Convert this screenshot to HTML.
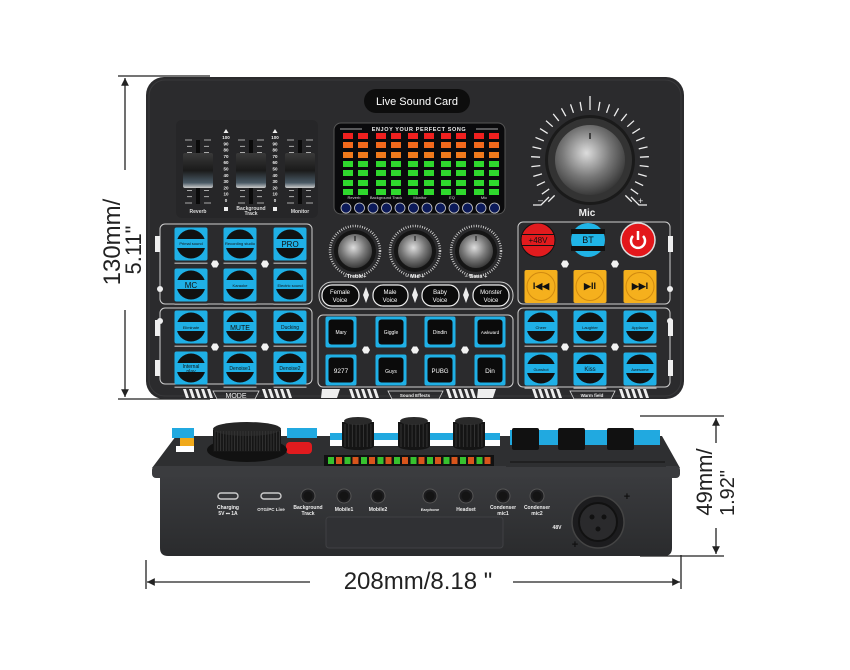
<!DOCTYPE html>
<html><head><meta charset="utf-8"><style>
html,body{margin:0;padding:0;background:#fff;}
svg{display:block;}
text{font-family:"Liberation Sans",sans-serif;}
</style></head><body>
<svg id="s" width="850" height="670" viewBox="0 0 850 670" xmlns="http://www.w3.org/2000/svg">
<defs>
<radialGradient id="kn" cx="0.45" cy="0.4" r="0.7"><stop offset="0" stop-color="#ddd"/><stop offset="0.5" stop-color="#777"/><stop offset="1" stop-color="#222"/></radialGradient>
<linearGradient id="cap" x1="0" y1="0" x2="0" y2="1"><stop offset="0" stop-color="#3a3a3a"/><stop offset="0.5" stop-color="#1a1a1a"/><stop offset="0.85" stop-color="#4a5a66"/><stop offset="1" stop-color="#ccc"/></linearGradient>
<linearGradient id="face" x1="0" y1="0" x2="0" y2="1"><stop offset="0" stop-color="#3a3b3e"/><stop offset="1" stop-color="#2a2b2d"/></linearGradient>
<marker id="ar" viewBox="0 0 10 10" refX="10" refY="5" markerWidth="8" markerHeight="6" orient="auto-start-reverse"><path d="M0,0 L10,5 L0,10z" fill="#222"/></marker>
</defs>

<!-- dimension lines -->
<g stroke="#222" stroke-width="1.3" fill="none">
<line x1="118" y1="76" x2="210" y2="76"/>
<line x1="118" y1="399" x2="210" y2="399"/>
<line x1="125" y1="170" x2="125" y2="78" marker-end="url(#ar)"/>
<line x1="125" y1="310" x2="125" y2="397" marker-end="url(#ar)"/>
<line x1="640" y1="416" x2="724" y2="416"/>
<line x1="640" y1="556" x2="724" y2="556"/>
<line x1="716" y1="443" x2="716" y2="418" marker-end="url(#ar)"/>
<line x1="716" y1="528" x2="716" y2="554" marker-end="url(#ar)"/>
<line x1="146" y1="560" x2="146" y2="589"/>
<line x1="681" y1="555" x2="681" y2="589"/>
<line x1="310" y1="582" x2="147" y2="582" marker-end="url(#ar)"/>
<line x1="513" y1="582" x2="680" y2="582" marker-end="url(#ar)"/>
</g>
<text x="112" y="242" font-size="24" fill="#222" text-anchor="middle" transform="rotate(-90 112 242)" dy="8">130mm/</text>
<text x="134" y="250" font-size="22" fill="#222" text-anchor="middle" transform="rotate(-90 134 250)" dy="7">5.11"</text>
<text x="705" y="482" font-size="22" fill="#222" text-anchor="middle" transform="rotate(-90 705 482)" dy="7">49mm/</text>
<text x="727" y="493" font-size="20" fill="#222" text-anchor="middle" transform="rotate(-90 727 493)" dy="7">1.92"</text>
<text x="418" y="589" font-size="24" fill="#222" text-anchor="middle">208mm/8.18 "</text>

<!-- TOP DEVICE -->
<rect x="146" y="77" width="538" height="322" rx="18" fill="#2b2b2d"/>
<rect x="149" y="80" width="532" height="316" rx="16" fill="none" stroke="#3a3a3c" stroke-width="1"/>
<rect x="364" y="89" width="106" height="24" rx="12" fill="#0d0d0d"/>
<text x="417" y="105" font-size="11" fill="#fff" text-anchor="middle">Live Sound Card</text>
<rect x="176" y="120" width="142" height="98" rx="6" fill="#262628"/>
<g id="faders"></g>
<g font-size="5" fill="#ddd" text-anchor="middle" font-weight="bold">
<text x="198" y="213">Reverb</text><text x="251" y="210">Background</text><text x="251" y="215">Track</text><text x="300" y="213">Monitor</text>
</g>
<g id="nums" font-size="4.5" fill="#eee" text-anchor="middle" font-weight="bold"></g>

<!-- display -->
<rect x="334" y="123" width="171" height="91" rx="7" fill="#0a0a0c" stroke="#555" stroke-width="1"/>
<text x="419" y="131" font-size="5.5" fill="#eee" text-anchor="middle" font-weight="bold" letter-spacing="0.6">ENJOY YOUR PERFECT SONG</text>
<line x1="340" y1="129" x2="362" y2="129" stroke="#ddd" stroke-width="0.8"/><line x1="476" y1="129" x2="498" y2="129" stroke="#ddd" stroke-width="0.8"/>
<g id="leds"></g>
<g font-size="4" fill="#ddd" text-anchor="middle"><text x="354" y="199">Reverb</text><text x="386" y="199">Background Track</text><text x="420" y="199">Monitor</text><text x="452" y="199">EQ</text><text x="484" y="199">Mic</text></g>
<g id="circs"></g>

<!-- Mic knob -->
<g id="ticks" stroke="#eee" stroke-width="1.3"></g>
<circle cx="590" cy="160" r="45" fill="#1a1a1a"/>
<circle cx="590" cy="160" r="42" fill="#333"/>
<circle cx="590" cy="160" r="35" fill="url(#kn)"/>
<line x1="590" y1="133" x2="590" y2="139" stroke="#222" stroke-width="1.5"/>
<path d="M533,205 h8 l8,-8" stroke="#eee" fill="none" stroke-width="1.3"/><text x="538" y="203" font-size="9" fill="#eee">–</text>
<path d="M647,205 h-8 l-8,-8" stroke="#eee" fill="none" stroke-width="1.3"/><text x="638" y="204" font-size="9" fill="#eee">+</text>
<text x="587" y="216" font-size="10" fill="#eee" text-anchor="middle" font-weight="bold">Mic</text>

<!-- panel boxes -->
<g fill="none" stroke="#cfcfcf" stroke-width="1">
<rect x="160" y="224" width="152" height="80" rx="5"/>
<rect x="160" y="308" width="152" height="76" rx="5"/>
<rect x="319" y="282" width="194" height="27" rx="13"/>
<rect x="318" y="315" width="195" height="72" rx="5"/>
<rect x="518" y="222" width="152" height="82" rx="5"/>
<rect x="518" y="308" width="152" height="79" rx="5"/>
</g>
<g fill="#eee"><rect x="155" y="236" width="5" height="16"/><rect x="155" y="320" width="5" height="16"/><rect x="155" y="360" width="5" height="16"/><rect x="668" y="236" width="5" height="16"/><rect x="668" y="320" width="5" height="16"/><rect x="668" y="360" width="5" height="16"/>
<circle cx="160" cy="289" r="3"/><circle cx="160" cy="321" r="3"/><circle cx="670" cy="289" r="3"/><circle cx="670" cy="321" r="3"/></g>

<g id="btns"></g>
<g id="hex" fill="#f2f2f2"></g>
<g font-size="4" fill="#111" text-anchor="middle">
<text x="191" y="245">Primal sound</text><text x="240" y="245">Recording studio</text><text x="290" y="247" font-size="8">PRO</text>
<text x="191" y="288" font-size="8">MC</text><text x="240" y="287">Karaoke</text><text x="290" y="287">Electric sound</text>
<text x="191" y="329">Eliminate</text><text x="240" y="330" font-size="7">MUTE</text><text x="290" y="329" font-size="5">Ducking</text>
<text x="191" y="368" font-size="5">Internal</text><text x="191" y="373" font-size="5">play</text><text x="240" y="370" font-size="5">Denoise1</text><text x="290" y="370" font-size="5">Denoise2</text>
<text x="541" y="329">Cheer</text><text x="590" y="329">Laughter</text><text x="640" y="329">Applause</text>
<text x="541" y="371">Gunshot</text><text x="590" y="371" font-size="6">Kiss</text><text x="640" y="371">Awesome</text>
</g>
<g font-size="5" fill="#fff" text-anchor="middle">
<text x="341" y="334">Mary</text><text x="391" y="334">Giggle</text><text x="440" y="334">Dindin</text><text x="490" y="334" font-size="4.5">Awkward</text>
<text x="341" y="373" font-size="6.5">9277</text><text x="391" y="373">Guys</text><text x="440" y="373" font-size="6">PUBG</text><text x="490" y="373" font-size="6.5">Din</text>
</g>
<!-- knobs -->
<g id="knobs"></g>
<g font-size="5.5" fill="#eee" text-anchor="middle" font-weight="bold"><text x="355" y="278">−Treble+</text><text x="415" y="278">−  Mid  +</text><text x="476" y="278">−  Bass  +</text></g>
<!-- voices -->
<g fill="#0b0b0b" stroke="#eee" stroke-width="1.2">
<rect x="322" y="285" width="37" height="21" rx="10"/><rect x="373" y="285" width="35" height="21" rx="10"/><rect x="422" y="285" width="37" height="21" rx="10"/><rect x="473" y="285" width="36" height="21" rx="10"/>
</g>
<g fill="#eee"><path d="M366,287 l3,8 -3,8 -3,-8z"/><path d="M415,287 l3,8 -3,8 -3,-8z"/><path d="M466,287 l3,8 -3,8 -3,-8z"/></g>
<g font-size="6" fill="#fff" text-anchor="middle"><text x="340" y="294">Female</text><text x="340" y="302">Voice</text><text x="390" y="294">Male</text><text x="390" y="302">Voice</text><text x="440" y="294">Baby</text><text x="440" y="302">Voice</text><text x="491" y="294">Monster</text><text x="491" y="302">Voice</text></g>
<!-- top right circles -->
<circle cx="538" cy="240" r="17" fill="#e11b1e" stroke="#111" stroke-width="1"/><rect x="522" y="234" width="32" height="12" fill="#111"/><rect x="522" y="235" width="32" height="10" fill="#e11b1e"/>
<text x="538" y="243" font-size="8" fill="#111" text-anchor="middle">+48V</text>
<circle cx="588" cy="240" r="17" fill="#20b4e6"/><rect x="571" y="246" width="34" height="5" fill="#111"/><rect x="571" y="229" width="34" height="5" fill="#111"/>
<text x="588" y="243" font-size="9" fill="#111" text-anchor="middle">BT</text>
<circle cx="638" cy="240" r="17" fill="#e3171b" stroke="#ddd" stroke-width="1.5"/>
<path d="M633,236 a7,7 0 1 0 10,0" fill="none" stroke="#fff" stroke-width="2.5"/><line x1="638" y1="231" x2="638" y2="240" stroke="#fff" stroke-width="2.5"/>
<g id="yel"></g>
<g font-size="9" fill="#111" text-anchor="middle" font-weight="bold"><text x="541" y="289">I◀◀</text><text x="590" y="289">▶II</text><text x="640" y="289">▶▶I</text></g>
<!-- bottom decorations -->
<g id="deco" fill="#eee"></g>
<g font-size="7" fill="#eee" text-anchor="middle"><text x="236" y="398">MODE</text></g>
<g font-size="4.5" fill="#eee" text-anchor="middle" font-weight="bold"><text x="415" y="397">Sound Effects</text><text x="592" y="397">Warm field</text></g>
<g fill="none" stroke="#ddd" stroke-width="0.8"><path d="M213,391 h46 l-4,8 h-38z"/><path d="M388,391 h55 l-4,8 h-47z"/><path d="M570,391 h45 l-4,8 h-37z"/></g>

<!-- BOTTOM DEVICE -->
<path d="M176,436 L662,436 L680,468 L152,468 Z" fill="#2e2f31"/>
<rect x="152" y="466" width="528" height="12" rx="4" fill="#3b3c3f"/>
<path d="M160,477 H672 V548 Q672,556 664,556 H168 Q160,556 160,548 Z" fill="url(#face)"/>
<!-- top surface details -->
<rect x="172" y="428" width="22" height="10" fill="#21a9e0"/><rect x="180" y="438" width="14" height="8" fill="#f0a91a"/><rect x="176" y="446" width="18" height="6" fill="#fff"/>
<rect x="287" y="428" width="30" height="10" fill="#21a9e0"/><rect x="286" y="442" width="26" height="12" rx="4" fill="#e11b1e"/>
<rect x="330" y="433" width="170" height="10" fill="#21a9e0"/><rect x="330" y="440" width="170" height="6" fill="#fff"/>
<rect x="510" y="430" width="150" height="22" fill="#21a9e0"/>
<rect x="506" y="445" width="160" height="22" fill="#2e2f31"/>
<line x1="510" y1="462" x2="665" y2="462" stroke="#111" stroke-width="1"/>
<rect x="324" y="455" width="170" height="11" fill="#111"/>
<g id="bleds"></g>
<!-- big knob -->
<ellipse cx="247" cy="450" rx="40" ry="12" fill="#111"/>
<rect x="213" y="430" width="68" height="22" fill="#151515"/>
<ellipse cx="247" cy="429" rx="34" ry="7" fill="#252525"/>
<g id="bigk" stroke="#333" stroke-width="1"></g>
<!-- small knobs -->
<g id="sk"></g>
<!-- faders -->
<g fill="#111"><rect x="512" y="428" width="27" height="22" rx="2"/><rect x="558" y="428" width="27" height="22" rx="2"/><rect x="607" y="428" width="27" height="22" rx="2"/></g>
<!-- ports -->
<g fill="none" stroke="#ccc" stroke-width="1.4"><rect x="218" y="493" width="20" height="6" rx="3"/><rect x="261" y="493" width="20" height="6" rx="3"/></g>
<g id="jacks"></g>
<g font-size="5" fill="#eee" text-anchor="middle" font-weight="bold">
<text x="228" y="509">Charging</text><text x="228" y="515">5V ⎓ 1A</text>
<text x="271" y="511" font-size="4.5">OTG/PC Live</text>
<text x="308" y="509">Background</text><text x="308" y="515">Track</text>
<text x="344" y="511">Mobile1</text><text x="378" y="511">Mobile2</text>
<text x="430" y="511" font-size="4">Earphone</text><text x="466" y="511">Headset</text>
<text x="503" y="509">Condenser</text><text x="503" y="515">mic1</text>
<text x="537" y="509">Condenser</text><text x="537" y="515">mic2</text>
<text x="557" y="529">48V</text>
</g>
<rect x="326" y="517" width="177" height="31" rx="3" fill="#303134" stroke="#3f4043" stroke-width="1"/>
<circle cx="598" cy="522" r="26" fill="#1c1c1e" stroke="#444" stroke-width="1.5"/>
<circle cx="598" cy="522" r="19" fill="#2a2a2c" stroke="#111" stroke-width="2"/>
<g fill="#111"><circle cx="592" cy="517" r="2.5"/><circle cx="604" cy="517" r="2.5"/><circle cx="598" cy="529" r="2.5"/></g>
<text x="627" y="500" font-size="11" fill="#111" text-anchor="middle" font-weight="bold">+</text>
<text x="575" y="548" font-size="11" fill="#111" text-anchor="middle" font-weight="bold">+</text>
</svg>
<script>
const NS="http://www.w3.org/2000/svg";
function el(p,t,a){const e=document.createElementNS(NS,t);for(const k in a)e.setAttribute(k,a[k]);document.getElementById(p).appendChild(e);return e;}
// faders
[198,251,300].forEach(x=>{
 el('faders','rect',{x:x-2,y:140,width:4,height:64,fill:'#0a0a0a'});
 for(let i=0;i<11;i++){const y=140+i*6.3;const w=(i%5==0)?7:5;
  el('faders','line',{x1:x-6-w,y1:y,x2:x-6,y2:y,stroke:'#ccc','stroke-width':0.8});
  el('faders','line',{x1:x+6,y1:y,x2:x+6+w,y2:y,stroke:'#ccc','stroke-width':0.8});}
 el('faders','rect',{x:x-15,y:153,width:30,height:35,rx:2,fill:'url(#cap)'});
});
[226,275].forEach(x=>{
 el('nums','path',{d:`M${x-2.5},133 l2.5,-4 2.5,4z`,fill:'#eee'});
 el('nums','rect',{x:x-2,y:207,width:4,height:4,fill:'#eee'});
 [100,90,80,70,60,50,40,30,20,10,0].forEach((n,i)=>{const t=el('nums','text',{x:x,y:139+i*6.3});t.textContent=n;});
});
// leds
const cols=[348,363,381,396,413,429,446,461,479,494],rows=[136,145,155,164,173,183,192];
const rc=['#f0201f','#f2691c','#f07a1c','#2fd82d','#2fd82d','#2fd82d','#2fd82d'];
rows.forEach((y,r)=>cols.forEach(x=>el('leds','rect',{x:x-5,y:y-3,width:10,height:6,fill:rc[r]})));
for(let i=0;i<12;i++){el('circs','circle',{cx:346+i*13.5,cy:208,r:5,fill:'#0c1a5a',stroke:'#ccc','stroke-width':0.8});}
// mic ticks
for(let i=0;i<=28;i++){const a=(-135+i*270/28)*Math.PI/180;const r1=50,r2=(i==14)?64:59;
 el('ticks','line',{x1:590+r1*Math.sin(a),y1:160-r1*Math.cos(a),x2:590+r2*Math.sin(a),y2:160-r2*Math.cos(a)});}
// buttons
function cbtn(x,y){el('btns','rect',{x:x-16.5,y:y-16.5,width:33,height:33,rx:2,fill:'#1fb0e6'});
 el('btns','circle',{cx:x,cy:y,r:14.5,fill:'#111'});
 el('btns','rect',{x:x-15,y:y-5,width:30,height:9,fill:'#1fb0e6'});
 el('btns','rect',{x:x-16.5,y:y+18.5,width:33,height:1.5,fill:'#999'});}
[[191,244],[240,244],[290,244],[191,285],[240,285],[290,285],[191,327],[240,327],[290,327],[191,368],[240,368],[290,368],[541,327],[590,327],[640,327],[541,369],[590,369],[640,369]].forEach(p=>cbtn(p[0],p[1]));
[341,391,440,490].forEach(x=>[332,370].forEach(y=>{el('btns','rect',{x:x-15.5,y:y-15.5,width:31,height:31,rx:2,fill:'#1fb0e6'});el('btns','rect',{x:x-12.5,y:y-12.5,width:25,height:25,rx:3,fill:'#0b0b0b'});}));
[541,590,640].forEach(x=>{el('yel','rect',{x:x-16.5,y:270,width:33,height:33,rx:2,fill:'#f5b01d'});el('yel','circle',{cx:x,cy:286.5,r:14,fill:'none',stroke:'#d08a10','stroke-width':1});});
// hex dots
[[215,264],[265,264],[215,347],[265,347],[565,264],[615,264],[565,347],[615,347],[366,350],[415,350],[465,350]].forEach(p=>{
 el('hex','path',{d:`M${p[0]-4},${p[1]} l2,-3.5 h4 l2,3.5 -2,3.5 h-4z`});});
// knobs
[355,415,476].forEach(x=>{el('knobs','circle',{cx:x,cy:251,r:25,fill:'none',stroke:'#ddd','stroke-width':2.5,'stroke-dasharray':'0.8 1.6'});
 el('knobs','circle',{cx:x,cy:251,r:21,fill:'#151515'});el('knobs','circle',{cx:x,cy:251,r:17,fill:'url(#kn)'});
 el('knobs','line',{x1:x,y1:236,x2:x,y2:241,stroke:'#222','stroke-width':1.2});});
// deco
function slashes(x0,n){for(let i=0;i<n;i++){const x=x0+i*6;el('deco','path',{d:`M${x},389 h3 l3,9 h-3z`});}}
slashes(183,5);slashes(262,5);slashes(349,5);slashes(446,5);slashes(532,5);slashes(619,5);
el('deco','path',{d:'M322,389 h18 l-3,9 h-16z'});el('deco','path',{d:'M478,389 h18 l-3,9 h-16z'});
// bottom device leds
for(let i=0;i<10;i++){el('bleds','rect',{x:328+i*16.5,y:457,width:6,height:7,fill:'#37c22f'});el('bleds','rect',{x:336+i*16.5,y:457,width:6,height:7,fill:'#d8551c'});}
for(let i=0;i<24;i++){const x=215+i*2.8;el('bigk','line',{x1:x,y1:431,x2:x,y2:451});}
[358,414,469].forEach(x=>{el('sk','rect',{x:x-16,y:422,width:32,height:24,fill:'#141414'});el('sk','ellipse',{cx:x,cy:446,rx:16,ry:4,fill:'#141414'});el('sk','ellipse',{cx:x,cy:421,rx:14,ry:4,fill:'#2a2a2a'});
 for(let i=0;i<8;i++)el('sk','line',{x1:x-13+i*3.7,y1:424,x2:x-13+i*3.7,y2:447,stroke:'#333','stroke-width':1});});
[308,344,378,430,466,503,537].forEach(x=>{el('jacks','circle',{cx:x,cy:496,r:7,fill:'#1c1c1e',stroke:'#555','stroke-width':1});el('jacks','circle',{cx:x,cy:496,r:4.5,fill:'#141414'});});
</script>
</body></html>
